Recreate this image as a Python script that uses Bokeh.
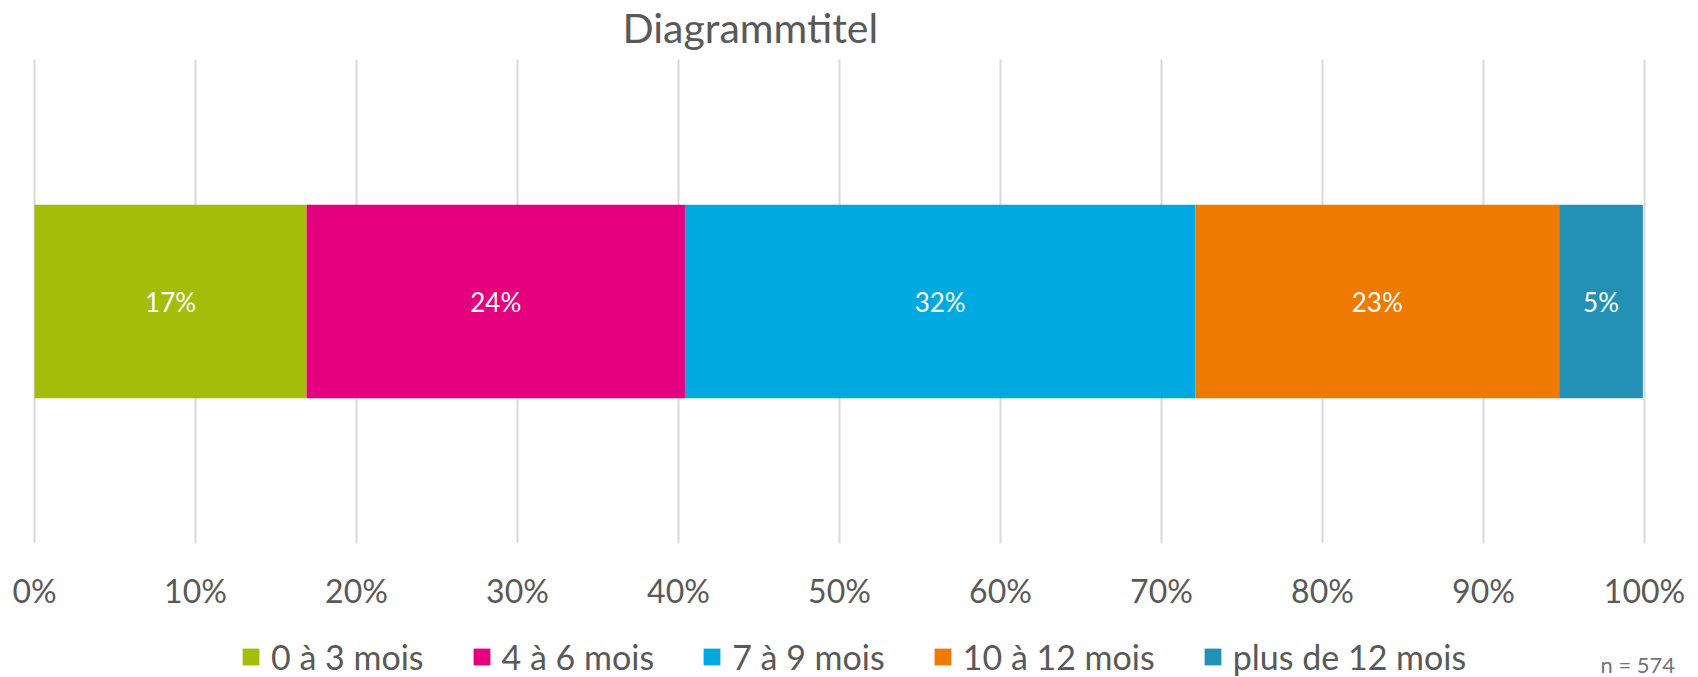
from bokeh.plotting import figure
from bokeh.models import Range1d, Legend, LegendItem, ColumnDataSource, Label
from bokeh.core.properties import value
from bokeh.embed import file_html
from bokeh.resources import INLINE
import numpy as np

# ---- data ----
categories = ["0 à 3 mois", "4 à 6 mois", "7 à 9 mois", "10 à 12 mois", "plus de 12 mois"]
shares = [16.9, 23.5, 31.7, 22.6, 5.2]          # percent of respondents
share_labels = ["17%", "24%", "32%", "23%", "5%"]
colors = ["#A4BC0A", "#E5007D", "#00AAE1", "#EE7A00", "#2391B5"]
x_ticks = [0, 10, 20, 30, 40, 50, 60, 70, 80, 90, 100]
x_tick_labels = ["0%", "10%", "20%", "30%", "40%", "50%", "60%", "70%", "80%", "90%", "100%"]
title_text = "Diagrammtitel"
note_text = "n = 574"

FONT = "Lato"
GREY = "#595959"

# ---- layout (pixels) ----
W, H = 1690, 677
PLOT_L, PLOT_R = 34, 1644      # pixel span of 0%..100%
PLOT_T, PLOT_B = 59, 543       # pixel span of the plot area (y: 1..0)
px_x = (PLOT_R - PLOT_L) / 100.0
px_y = (PLOT_B - PLOT_T) / 1.0

x_range = Range1d(-PLOT_L / px_x, 100 + (W - PLOT_R) / px_x)
y_range = Range1d(-(H - PLOT_B) / px_y, 1 + PLOT_T / px_y)

def dy(pix):      # pixel row -> data y
    return (PLOT_B - pix) / px_y

def dx(pix):      # pixel column -> data x
    return (pix - PLOT_L) / px_x

p = figure(width=W, height=H, min_border=0,
           x_range=x_range, y_range=y_range,
           x_axis_location=None, y_axis_location=None,
           toolbar_location=None, output_backend="svg", tools="")
p.outline_line_color = None
p.background_fill_color = "white"
p.border_fill_color = "white"
p.xgrid.grid_line_color = None
p.ygrid.grid_line_color = None
for g in p.grid:
    g.visible = False

# vertical grid lines at the x ticks
p.segment(x0=x_ticks, y0=[0] * len(x_ticks), x1=x_ticks, y1=[1] * len(x_ticks),
          line_color="#D9D9D9", line_width=2)

# tick labels
p.text(x=x_ticks, y=[dy(590)] * len(x_ticks), text=x_tick_labels,
       text_font=value(FONT), text_font_size="32px", text_color=GREY,
       text_align="center", text_baseline="middle")

# stacked bar
rights = np.cumsum(shares)
lefts = rights - np.array(shares)
items = []
for i, cat in enumerate(categories):
    r = p.hbar(y=[0.5], left=[lefts[i]], right=[rights[i]], height=0.4,
               fill_color=colors[i], line_color=None)
    items.append(LegendItem(label=cat, renderers=[r]))

src = ColumnDataSource(dict(x=(lefts + rights) / 2, y=[0.5] * len(shares), t=share_labels))
p.text(x="x", y="y", text="t", source=src, text_color="white",
       text_font=value(FONT), text_font_size="26px",
       text_align="center", text_baseline="middle")

# legend
legend = Legend(items=items, orientation="horizontal", location=(240, 0),
                glyph_width=21, glyph_height=21, label_height=21,
                label_standoff=10, spacing=47, padding=0, margin=0,
                border_line_color=None, background_fill_alpha=0,
                label_text_font=FONT, label_text_font_size="34px",
                label_text_color=GREY, label_text_baseline="middle")
p.add_layout(legend, "center")

# title
p.add_layout(Label(x=dx(622), y=dy(27), text=title_text, text_align="left",
                   text_baseline="middle", text_font=FONT,
                   text_font_size="41px", text_color=GREY))
# sample size note
p.add_layout(Label(x=dx(1600), y=dy(664), text=note_text, text_align="left",
                   text_baseline="middle", text_font=FONT,
                   text_font_size="22px", text_color="#767171"))

open("out.html", "w").write(file_html(p, INLINE))
